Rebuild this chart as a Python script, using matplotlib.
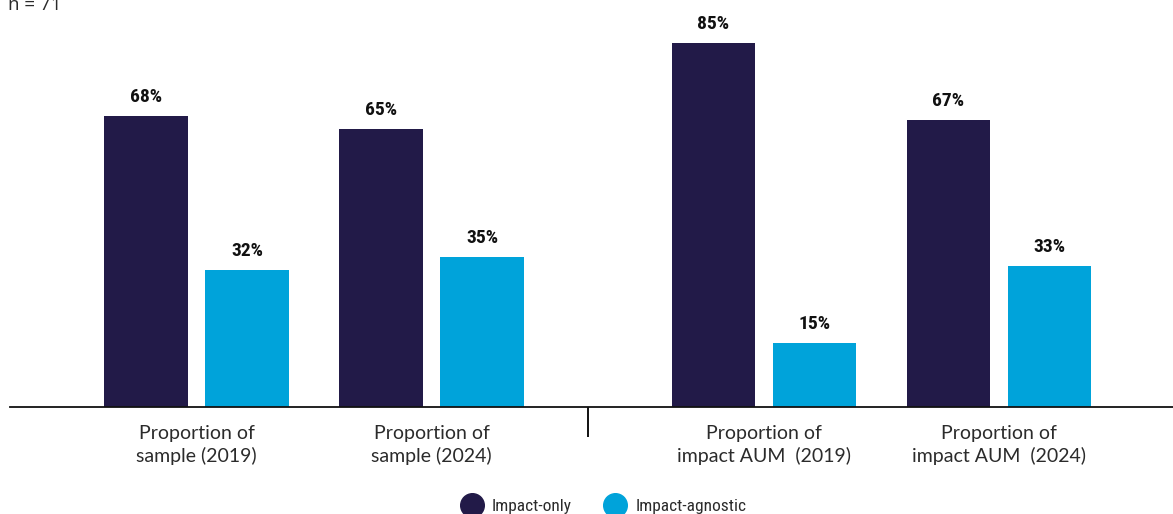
import matplotlib
matplotlib.use("Agg")
import matplotlib.pyplot as plt
from matplotlib.lines import Line2D
from matplotlib import font_manager

categories = ["Proportion of\nsample (2019)", "Proportion of\nsample (2024)",
              "Proportion of\nimpact AUM  (2019)", "Proportion of\nimpact AUM  (2024)"]
impact_only = [68, 65, 85, 67]
impact_agnostic = [32, 35, 15, 33]
series_names = ["Impact-only", "Impact-agnostic"]
sample_note = "n = 71"

DARK = "#221a48"
LIGHT = "#00a3da"
TEXT = "#2b2b2b"


def narrow_font():
    """Pick a condensed face for the value labels and legend."""
    fonts = font_manager.fontManager.ttflist
    names = {f.name for f in fonts}
    for cand in ("Roboto Condensed", "Liberation Sans Narrow", "Open Sans Condensed",
                 "Noto Sans Condensed", "DejaVu Sans Condensed"):
        if cand in names:
            return dict(family=cand)
    for f in fonts:
        if f.name == "DejaVu Sans" and f.stretch in ("condensed", "semi-condensed"):
            return dict(family="DejaVu Sans", stretch="condensed")
    return dict(family="DejaVu Sans")


NARROW = narrow_font()

W, H = 1173, 514
fig = plt.figure(figsize=(W / 100, H / 100), dpi=100)

# axes box expressed in pixels of the final image
left_px, right_px, base_px, top_px = 10, 1173, 407, 43
ax = fig.add_axes([left_px / W, (H - base_px) / H,
                   (right_px - left_px) / W, (base_px - top_px) / H])

group_x = [0.0, 1.0, 2.415, 3.415]
bar_w = 0.357
offset = 0.215

dark_x = [g - offset for g in group_x]
light_x = [g + offset for g in group_x]
b1 = ax.bar(dark_x, impact_only, width=bar_w, color=DARK, label=series_names[0])
b2 = ax.bar(light_x, impact_agnostic, width=bar_w, color=LIGHT, label=series_names[1])

ax.set_ylim(0, max(impact_only))
px_per_unit = 235.0
ax.set_xlim(group_x[0] - (196.5 - left_px) / px_per_unit,
            group_x[0] + (right_px - 196.5) / px_per_unit)

for bars, vals in ((b1, impact_only), (b2, impact_agnostic)):
    for rect, v in zip(bars, vals):
        ax.annotate(f"{v}%", (rect.get_x() + rect.get_width() / 2, v),
                    xytext=(0, 10), textcoords="offset points",
                    ha="center", va="baseline", fontsize=14,
                    fontweight="bold", color="#111111",
                    annotation_clip=False, **NARROW)

for s in ("top", "right", "left"):
    ax.spines[s].set_visible(False)
ax.spines["bottom"].set_linewidth(1.3)
ax.spines["bottom"].set_color("#111111")
ax.set_yticks([])
ax.set_xticks(group_x)
ax.set_xticklabels(categories, fontsize=14, family=["Lato", "DejaVu Sans"],
                   color=TEXT, linespacing=1.3)
ax.tick_params(axis="x", length=0, pad=13)

# divider between the sample and AUM panels
sep_x = 1.666
ax.plot([sep_x, sep_x], [0, -30 / (base_px - top_px) * max(impact_only)],
        color="#111111", lw=1.4, clip_on=False, solid_capstyle="butt")

fig.text(8 / W, (H - 10) / H, sample_note, fontsize=13.5,
         family=["Open Sans", "DejaVu Sans"], color=TEXT, va="baseline", ha="left")

handles = [Line2D([], [], marker="o", linestyle="none", markersize=17,
                  markerfacecolor=c, markeredgecolor=c) for c in (DARK, LIGHT)]
fig.legend(handles, series_names, loc="center", bbox_to_anchor=(604 / W, (H - 506) / H),
           ncol=2, frameon=False, handletextpad=0.55, columnspacing=1.9,
           prop=font_manager.FontProperties(size=12.5, **NARROW), labelcolor=TEXT,
           borderaxespad=0, handlelength=1.2)

fig.savefig("out.png", dpi=100)
